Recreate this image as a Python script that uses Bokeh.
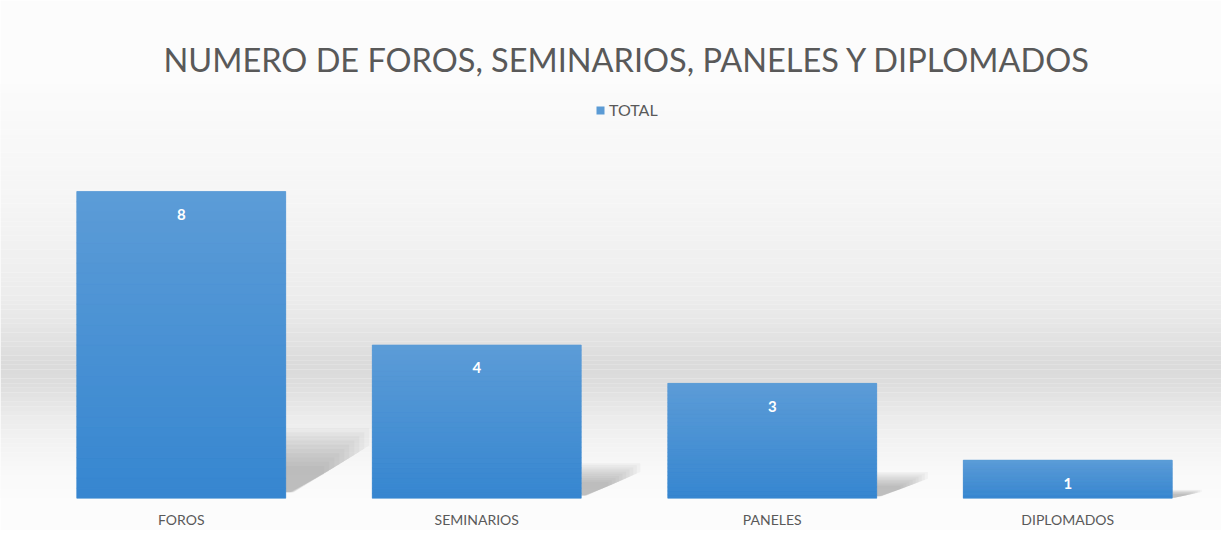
import numpy as np
from bokeh.plotting import figure
from bokeh.models import (Range1d, ColumnDataSource, LabelSet, BoxAnnotation, Legend,
                          LegendItem, FixedTicker)
from bokeh.core.properties import value
from bokeh.embed import file_html
from bokeh.resources import INLINE

# ---- data ----
categories = ["FOROS", "SEMINARIOS", "PANELES", "DIPLOMADOS"]
totals = [8, 4, 3, 1]
series_name = "TOTAL"
title_text = "NUMERO DE FOROS, SEMINARIOS, PANELES Y DIPLOMADOS"

# ---- style ----
FONT = "Lato"
TEXT_GRAY = "#595959"
BAR_TOP = (0x5c, 0x9c, 0xd7)
BAR_BOTTOM = (0x36, 0x86, 0xd0)
BAR_WIDTH = 0.707
W, H = 1221, 530
TOP_PX, BOTTOM_PX = 83, 30
FRAME_H = H - TOP_PX - BOTTOM_PX
PX_PER_UNIT = 38.56
Y_END = FRAME_H / PX_PER_UNIT
CAT_PX = 295.5          # pixels per category slot
LEFT_PAD_PX = 33        # space left of the first slot

xpos = [i + 0.5 for i in range(len(categories))]   # category slot centres

p = figure(
    x_range=Range1d(-LEFT_PAD_PX / CAT_PX, (W - LEFT_PAD_PX) / CAT_PX),
    y_range=Range1d(0, Y_END),
    width=W, height=H,
    output_backend="svg", toolbar_location=None,
    min_border_left=0, min_border_right=0,
    min_border_top=TOP_PX, min_border_bottom=BOTTOM_PX,
)
p.background_fill_color = "#fbfbfb"
p.border_fill_color = "#fcfcfc"
p.outline_line_color = None
p.xgrid.visible = False
p.ygrid.visible = False
p.yaxis.visible = False

# background vertical gradient (decoration): pixel distance above the baseline -> grey level
stops_px = [0, 20, 41, 82, 114, 135, 159, 200, 298, FRAME_H]
stops_gray = [251, 250, 246, 236, 222, 218, 226, 236, 245, 251]
nb = 90
edges = np.linspace(0, FRAME_H, nb + 1)
for i in range(nb):
    mid = (edges[i] + edges[i + 1]) / 2
    g = int(round(np.interp(mid, stops_px, stops_gray)))
    p.add_layout(BoxAnnotation(bottom=edges[i] / PX_PER_UNIT, top=edges[i + 1] / PX_PER_UNIT,
                               fill_color=(g, g, g), fill_alpha=1.0, line_color=None,
                               level="underlay"))

# soft shadows to the right of each bar (decoration derived from bar heights)
nl = 10
for L in range(nl):
    s = 1.0 - 0.06 * L
    sx, sy = [], []
    for x0, v in zip(xpos, totals):
        xr = x0 + BAR_WIDTH / 2
        dx = 0.1 * np.sqrt(v) * s
        h = 0.23 * v * s
        sx.append([xr, xr, xr + dx, xr + dx, xr + 0.1 * dx])
        sy.append([0.02 * v, h, h, 0.75 * h, 0.02 * v])
    p.patches(sx, sy, fill_color="#808080", fill_alpha=0.065, line_color=None)

# main bars
src = ColumnDataSource(dict(x=xpos, val=totals, lab=[str(v) for v in totals]))
main = p.vbar(x="x", top="val", width=BAR_WIDTH, source=src,
              fill_color="#5b9bd5", line_color=None)

# vertical gradient overlay per bar
N = 30
gx, gb, gt, gc = [], [], [], []
for x0, v in zip(xpos, totals):
    for k in range(N):
        f = (k + 0.5) / N
        col = tuple(int(round(BAR_BOTTOM[j] + (BAR_TOP[j] - BAR_BOTTOM[j]) * f)) for j in range(3))
        hexc = "#%02x%02x%02x" % col
        gx.append(x0); gb.append(v * k / N); gt.append(v * (k + 1) / N); gc.append(hexc)
p.vbar(x=gx, bottom=gb, top=gt, width=BAR_WIDTH, fill_color=gc, line_color=gc, line_width=0.6)

# data labels
p.add_layout(LabelSet(x="x", y="val", text="lab", source=src, y_offset=-23,
                      text_align="center", text_baseline="middle",
                      text_color="white", text_font=value(FONT), text_font_style="bold",
                      text_font_size="15px"))

# legend
leg = Legend(items=[LegendItem(label=series_name, renderers=[main])],
             location=(595, 379), orientation="horizontal",
             background_fill_alpha=0, border_line_color=None,
             label_text_font=FONT, label_text_font_size="16px", label_text_color=TEXT_GRAY,
             glyph_width=10, glyph_height=10, margin=0, padding=5, label_standoff=4)
p.add_layout(leg, "center")

# x axis with category labels
ax = p.xaxis[0]
ax.ticker = FixedTicker(ticks=xpos)
ax.major_label_overrides = {x: c for x, c in zip(xpos, categories)}
ax.axis_line_color = None
ax.major_tick_line_color = None
ax.minor_tick_line_color = None
ax.major_tick_out = 0
ax.major_label_standoff = 12
ax.major_label_text_font = FONT
ax.major_label_text_font_size = "14px"
ax.major_label_text_color = TEXT_GRAY

# title
p.title.text = title_text
p.title.align = "left"
p.title.offset = 163
p.title.text_font = FONT
p.title.text_font_size = "32.5px"
p.title.text_font_style = "normal"
p.title.text_color = TEXT_GRAY

open("out.html", "w").write(file_html(p, INLINE))
